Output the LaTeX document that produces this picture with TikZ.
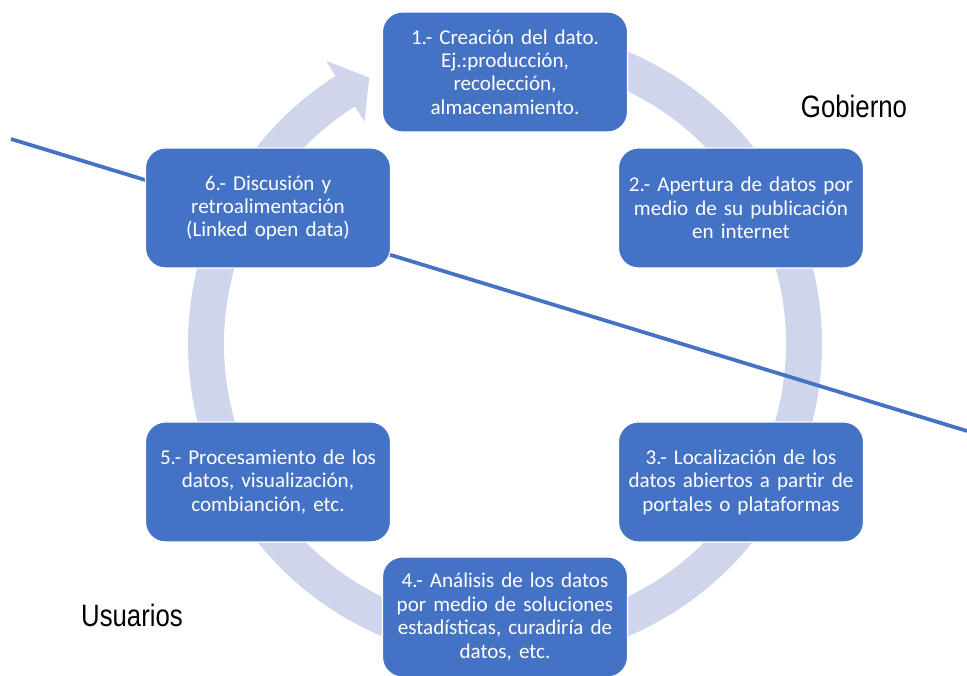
\documentclass[tikz,border=0pt]{standalone}
\usepackage{fontspec}
\setmainfont{Carlito}
\newfontfamily\labelfont{Liberation Sans}
\definecolor{boxblue}{RGB}{68,114,196}
\definecolor{ringlav}{RGB}{207,213,234}
\begin{document}
\begin{tikzpicture}[x=0.03cm, y=0.03cm,
    stage/.style={draw=white, line width=1pt, fill=boxblue, rounded corners=17pt, minimum width=7.35cm, minimum height=3.6cm, text width=6.9cm, align=center, text=white, inner sep=0pt, font=\fontsize{18}{20}\selectfont},
    side/.style={anchor=base, font=\labelfont\fontsize{22}{26}\selectfont}]
    \useasboundingbox (0,0) rectangle (967,676);
    \begin{scope}[shift={(505,332)}]
        \fill[ringlav] (90:317) arc[start angle=90, end angle=-237.7, radius=317] -- (-237.7:335) -- (-243:299) -- (-237.7:263) -- (-237.7:281) arc[start angle=-237.7, end angle=90, radius=281] -- cycle;
    \end{scope}
    \coordinate (divL) at (11,537);
    \coordinate (divR) at (967,245);
    \draw[boxblue, line width=3.2pt] (divL) -- (divR);
    \node[stage] (s1) at (505,604) {1.- Creación del dato.\\ Ej.:producción,\\ recolección,\\ almacenamiento.};
    \node[stage] (s2) at (741,468) {2.- Apertura de datos por\\ medio de su publicación\\ en internet};
    \node[stage] (s3) at (741,194) {3.- Localización de los\\ datos abiertos a partir de\\ portales o plataformas};
    \node[stage] (s4) at (505,59) {4.- Análisis de los datos\\ por medio de soluciones\\ estadísticas, curadiría de\\ datos, etc.};
    \node[stage] (s5) at (268,194) {5.- Procesamiento de los\\ datos, visualización,\\ combianción, etc.};
    \node[stage] (s6) at (268,468) {6.- Discusión y\\ retroalimentación\\ (Linked open data)};
    \node[side] (gob) at (854,558) {\scalebox{1}[1.2]{Gobierno}};
    \node[side] (usu) at (132,49) {\scalebox{1}[1.2]{Usuarios}};
\end{tikzpicture}
\end{document}
